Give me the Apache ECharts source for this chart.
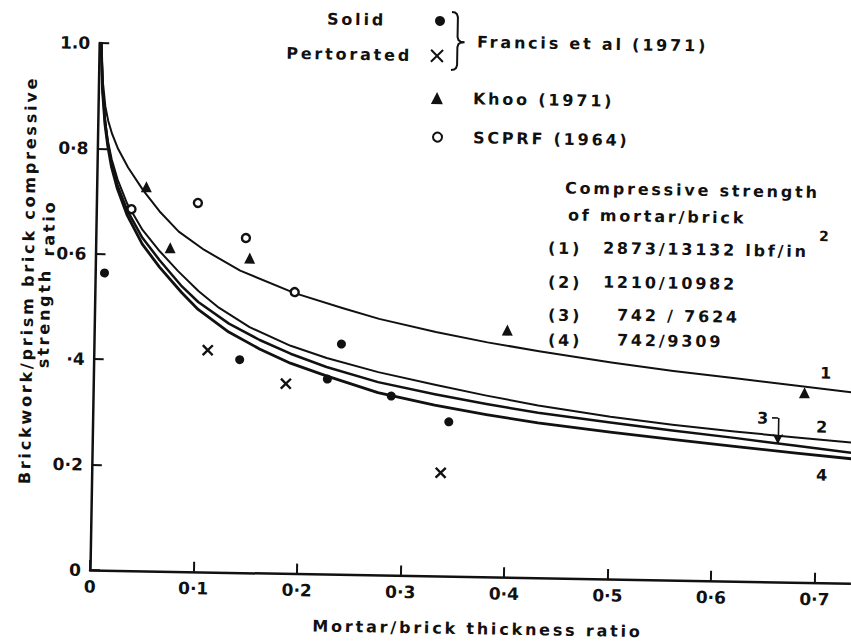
<!DOCTYPE html>
<html><head><meta charset="utf-8">
<script src="https://cdn.jsdelivr.net/npm/echarts@6.0.0/dist/echarts.min.js"></script>
<style>
html,body{margin:0;padding:0;background:#fff;overflow:hidden;}
#wrap{width:851px;height:643px;overflow:hidden;position:relative;background:#fff;}
#chart{width:851px;height:643px;transform:rotate(1deg);transform-origin:90px 570px;}
#chart text{letter-spacing:2.8px;}
#chart text[style*="17px"]{letter-spacing:0px;}
</style></head><body><div id="wrap"><div id="chart"></div></div>
<script>
// ---- data ----
const curveNames = ['1', '2', '3', '4'];
const curve1 = [[0.002,1.0],[0.004,0.93],[0.007,0.88],[0.01,0.853],[0.014,0.828],[0.02,0.8],[0.03,0.765],[0.045,0.722],[0.061,0.683],[0.08,0.645],[0.105,0.611],[0.14,0.573],[0.193,0.532],[0.24,0.505],[0.275,0.486],[0.33,0.463],[0.38,0.445],[0.43,0.43],[0.5,0.411],[0.56,0.397],[0.62,0.385],[0.68,0.373],[0.735,0.362]];
const curve2 = [[0.002,1.0],[0.004,0.92],[0.007,0.855],[0.01,0.815],[0.014,0.78],[0.02,0.742],[0.03,0.695],[0.045,0.647],[0.062,0.607],[0.08,0.57],[0.1,0.533],[0.12,0.502],[0.15,0.466],[0.19,0.432],[0.225,0.41],[0.275,0.385],[0.33,0.363],[0.38,0.344],[0.43,0.327],[0.5,0.308],[0.56,0.295],[0.62,0.284],[0.68,0.275],[0.735,0.267]];
const curve3 = [[0.002,1.0],[0.004,0.915],[0.007,0.85],[0.01,0.81],[0.014,0.772],[0.02,0.731],[0.03,0.683],[0.045,0.632],[0.062,0.59],[0.084,0.541],[0.1,0.512],[0.13,0.472],[0.16,0.442],[0.19,0.417],[0.225,0.393],[0.275,0.366],[0.33,0.345],[0.38,0.328],[0.43,0.313],[0.5,0.297],[0.56,0.284],[0.62,0.272],[0.68,0.259],[0.735,0.247]];
const curve4 = [[0.002,1.0],[0.004,0.91],[0.007,0.845],[0.01,0.805],[0.014,0.765],[0.02,0.724],[0.03,0.674],[0.045,0.62],[0.062,0.577],[0.084,0.529],[0.1,0.498],[0.13,0.456],[0.16,0.425],[0.19,0.399],[0.225,0.376],[0.275,0.346],[0.33,0.324],[0.38,0.308],[0.43,0.294],[0.5,0.279],[0.56,0.267],[0.62,0.256],[0.68,0.245],[0.735,0.236]];

const solidPts = [[0.009,0.564],[0.141,0.404],[0.226,0.370],[0.239,0.437],[0.288,0.340],[0.344,0.293]];
const perforatedPts = [[0.110,0.421],[0.186,0.360],[0.337,0.196]];
const khooPts = [[0.048,0.729],[0.072,0.614],[0.149,0.597],[0.399,0.469],[0.687,0.360]];
const scprfPts = [[0.034,0.686],[0.098,0.700],[0.145,0.635],[0.193,0.534]];

const xTicks = [0, 0.1, 0.2, 0.3, 0.4, 0.5, 0.6, 0.7];
const xTickLabels = ['0', '0·1', '0·2', '0·3', '0·4', '0·5', '0·6', '0·7'];
const yTicks = [0, 0.2, 0.4, 0.6, 0.8, 1.0];
const yTickLabels = ['0', '0·2', '·4', '0·6', '0·8', '1.0'];

const seriesNames = ['Solid', 'Pertorated', 'Khoo (1971)', 'SCPRF (1964)'];
const groupLabel = 'Francis et al (1971)';
const tableTitle = ['Compressive strength', 'of mortar/brick'];
const tableKeys = ['(1)', '(2)', '(3)', '(4)'];
const tableValues = ['2873/13132 lbf/in', '1210/10982', '742 / 7624', '742/9309'];
const xName = 'Mortar/brick thickness ratio';
const yName = ['Brickwork/prism brick compressive', 'strength', 'ratio'];

// ---- layout / style ----
const INK = '#111111';
const FONT = 'DejaVu Sans';
const TH = Math.PI / 180; // scan is tilted by 1 degree
function U(sx, sy) {
  const dx = sx - 90, dy = 570 - sy, c = Math.cos(TH), s = Math.sin(TH);
  return [90 + dx * c - dy * s, 570 - (dx * s + dy * c)];
}
function T(sx, sy, text, o) {
  o = o || {};
  const p = U(sx, sy);
  const al = o.align || 'left';
  return { type: 'text', x: p[0], y: p[1], rotation: o.rot || 0, z: 20,
    style: { text: text, fill: INK, fontSize: o.size || 16, fontWeight: 'bold', fontFamily: FONT,
      align: al, verticalAlign: 'middle', textAlign: al, textVerticalAlign: 'middle' } };
}
function fmt(ticks, labels) {
  return function (v) {
    for (let i = 0; i < ticks.length; i++) if (Math.abs(ticks[i] - v) < 1e-6) return labels[i];
    return '';
  };
}

const chart = echarts.init(document.getElementById('chart'), null, { renderer: 'svg', width: 851, height: 643 });

const braceOrigin = U(452, 12);
const graphics = [
  T(28, 280, yName[0], { align: 'center', rot: Math.PI / 2 }),
  T(44, 318, yName[1], { align: 'center', rot: Math.PI / 2 }),
  T(49, 228, yName[2], { align: 'center', rot: Math.PI / 2 }),
  { type: 'polyline', x: braceOrigin[0], y: braceOrigin[1], z: 20,
    shape: { points: [[0,0],[3,0.5],[5,2],[6,5],[6,25],[7,28],[9,29.5],[13,30],[9,30.5],[7,32],[6,35],[6,53],[5,56],[3,57.5],[0,58]] },
    style: { fill: null, stroke: INK, lineWidth: 2 } },
  T(477, 42, groupLabel),
  T(565, 188, tableTitle[0]),
  T(568, 215, tableTitle[1]),
  T(548, 248, tableKeys[0]), T(603, 248, tableValues[0]), T(819, 236, '2', { size: 14 }),
  T(548, 282, tableKeys[1]), T(603, 282, tableValues[1]),
  T(548, 315, tableKeys[2]), T(617, 315, tableValues[2]),
  T(548, 340, tableKeys[3]), T(617, 340, tableValues[3]),
  T(827, 373, curveNames[0], { align: 'center' }),
  T(823, 427, curveNames[1], { align: 'center' }),
  T(764, 418, curveNames[2], { align: 'center' }),
  T(823, 475, curveNames[3], { align: 'center' })
];

function legendRight(name, iconRightX, cy, size, padR) {
  const p = U(iconRightX, cy);
  return { data: [name], orient: 'vertical', align: 'right', right: 851 - p[0], top: p[1] - 8,
    padding: 0, itemWidth: size, itemHeight: size, selectedMode: false,
    itemStyle: { opacity: 1 },
    textStyle: { color: INK, fontSize: 16, fontWeight: 'bold', fontFamily: FONT, padding: [0, padR, 0, 0] } };
}
function legendLeft(name, iconLeftX, cy, size, padL) {
  const p = U(iconLeftX, cy);
  return { data: [name], orient: 'vertical', align: 'left', left: p[0], top: p[1] - 8,
    padding: 0, itemWidth: size, itemHeight: size, selectedMode: false,
    itemStyle: { opacity: 1 },
    textStyle: { color: INK, fontSize: 16, fontWeight: 'bold', fontFamily: FONT, padding: [0, 0, 0, padL] } };
}

function curveSeries(name, data, w) {
  return { name: name, type: 'line', data: data, showSymbol: false, smooth: false,
    lineStyle: { color: INK, width: w, cap: 'round', join: 'round' }, itemStyle: { color: INK }, z: 3, silent: true };
}

const s3 = curveSeries(curveNames[2], curve3, 2.5);
s3.markLine = { silent: true, symbol: ['none', 'none'], animation: false,
  lineStyle: { color: INK, width: 1.6, type: 'solid' }, label: { show: false },
  data: [
    [{ coord: [0.6561, 0.3111] }, { coord: [0.662, 0.3111] }],
    [{ coord: [0.662, 0.3111], symbol: 'none' }, { coord: [0.662, 0.262], symbol: 'arrow', symbolSize: [8, 10] }]
  ] };

chart.setOption({
  animation: false,
  backgroundColor: '#fff',
  textStyle: { fontFamily: FONT },
  grid: { left: 90, top: 43, width: 1040 * 0.735, height: 527, containLabel: false },
  xAxis: {
    type: 'value', min: 0, max: 0.735,
    name: xName, nameLocation: 'middle', nameGap: 44,
    nameTextStyle: { color: INK, fontSize: 16, fontWeight: 'bold', fontFamily: FONT, padding: [0, 0, 0, 16] },
    axisLine: { show: true, onZero: false, lineStyle: { color: INK, width: 2.5 } },
    axisTick: { show: true, inside: true, length: 10, customValues: xTicks, lineStyle: { color: INK, width: 2 } },
    axisLabel: { show: true, customValues: xTicks, formatter: fmt(xTicks, xTickLabels), margin: 8,
      color: INK, fontSize: 17, fontWeight: 'bold', fontFamily: FONT },
    splitLine: { show: false }
  },
  yAxis: {
    type: 'value', min: 0, max: 1.0, interval: 0.2,
    axisLine: { show: true, onZero: false, lineStyle: { color: INK, width: 2.5 } },
    axisTick: { show: true, inside: true, length: 10, customValues: yTicks, lineStyle: { color: INK, width: 2 } },
    axisLabel: { show: true, customValues: yTicks, formatter: fmt(yTicks, yTickLabels), margin: 9,
      color: INK, fontSize: 17, fontWeight: 'bold', fontFamily: FONT },
    splitLine: { show: false }
  },
  legend: [
    legendRight(seriesNames[0], 445, 21, 10, 44),
    legendRight(seriesNames[1], 444, 56, 12, 14),
    legendLeft(seriesNames[2], 431, 98, 12, 25),
    legendLeft(seriesNames[3], 432, 137, 9, 26)
  ],
  graphic: graphics,
  series: [
    curveSeries(curveNames[0], curve1, 2.0),
    curveSeries(curveNames[1], curve2, 2.0),
    s3,
    curveSeries(curveNames[3], curve4, 2.8),
    { name: seriesNames[0], type: 'scatter', data: solidPts, symbol: 'circle', symbolSize: 9, z: 5,
      itemStyle: { color: INK, opacity: 1 } },
    { name: seriesNames[1], type: 'scatter', data: perforatedPts, symbol: 'path://M0,0L10,10M10,0L0,10', symbolSize: 10, z: 5,
      itemStyle: { color: INK, borderColor: INK, borderWidth: 2.4, opacity: 1 } },
    { name: seriesNames[2], type: 'scatter', data: khooPts, symbol: 'triangle', symbolSize: [11, 11], z: 5,
      itemStyle: { color: INK, opacity: 1 } },
    { name: seriesNames[3], type: 'scatter', data: scprfPts, symbol: 'circle', symbolSize: 8, z: 5,
      itemStyle: { color: '#fff', borderColor: INK, borderWidth: 2.4, opacity: 1 } }
  ]
});
</script></body></html>
